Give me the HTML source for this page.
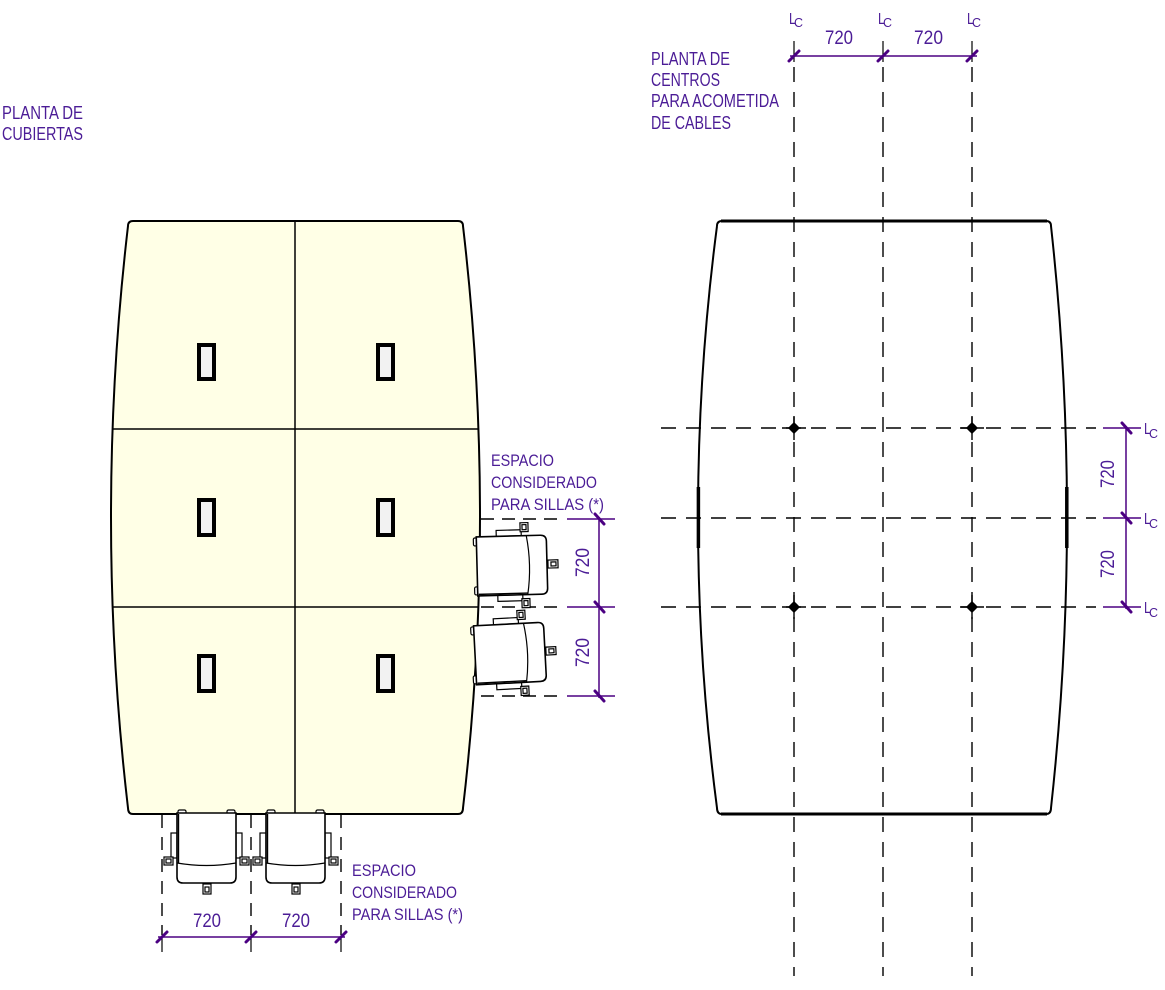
<!DOCTYPE html>
<html><head><meta charset="utf-8"><style>
html,body{margin:0;padding:0;background:#fff;}
svg{display:block;}
text{font-family:"Liberation Sans",sans-serif;fill:#4b1c96;}
</style></head><body>
<svg width="1165" height="990" viewBox="0 0 1165 990" xmlns="http://www.w3.org/2000/svg">
<defs>
<g id="chair" fill="#fff" stroke="#000" stroke-width="1.2">
 <rect x="1" y="-3" width="8" height="5" rx="1.5"/>
 <rect x="50" y="-3" width="8" height="5" rx="1.5"/>
 <rect x="-6" y="20" width="6" height="25"/>
 <rect x="59" y="20" width="6" height="25"/>
 <rect x="-13" y="44" width="9" height="8"/><rect x="-11" y="46" width="5" height="4"/>
 <rect x="63" y="44" width="9" height="8"/><rect x="65" y="46" width="5" height="4"/>
 <path d="M0,0 L59,0 L59,64 Q59,70 53,70 L6,70 Q0,70 0,64 Z" stroke-width="1.6"/>
 <line x1="1.5" y1="1" x2="1.5" y2="50" stroke-width="1.4"/>
 <path d="M0,50 Q29.5,55 59,50" fill="none"/>
 <rect x="26" y="71" width="8" height="10"/><rect x="28" y="74" width="4" height="5"/>
</g>
</defs>

<!-- Titles -->
<text x="2" y="119" font-size="18" textLength="81" lengthAdjust="spacingAndGlyphs">PLANTA DE</text>
<text x="2" y="140" font-size="18" textLength="81" lengthAdjust="spacingAndGlyphs">CUBIERTAS</text>

<text x="651" y="65" font-size="18" textLength="79" lengthAdjust="spacingAndGlyphs">PLANTA DE</text>
<text x="651" y="86" font-size="18" textLength="69" lengthAdjust="spacingAndGlyphs">CENTROS</text>
<text x="651" y="107" font-size="18" textLength="128" lengthAdjust="spacingAndGlyphs">PARA ACOMETIDA</text>
<text x="651" y="129" font-size="18" textLength="80" lengthAdjust="spacingAndGlyphs">DE CABLES</text>

<!-- LEFT TABLE -->
<path d="M133,221 L458,221 Q463,221 463,226 Q497,517 463,808 Q463,814 458,814 L133,814 Q128,814 128,808 Q94,517 128,226 Q128,221 133,221 Z" fill="#ffffe6" stroke="#000" stroke-width="2"/>
<line x1="295" y1="221" x2="295" y2="814" stroke="#000" stroke-width="1.5"/>
<line x1="112" y1="429" x2="479" y2="429" stroke="#000" stroke-width="1.5"/>
<line x1="112" y1="607" x2="479" y2="607" stroke="#000" stroke-width="1.5"/>
<g fill="#f2f2f2" stroke="#000" stroke-width="4">
 <rect x="199" y="345" width="15" height="34"/>
 <rect x="378" y="345" width="15" height="34"/>
 <rect x="199" y="500" width="15" height="35"/>
 <rect x="378" y="500" width="15" height="35"/>
 <rect x="199" y="656" width="15" height="35"/>
 <rect x="378" y="656" width="15" height="35"/>
</g>

<!-- right chairs dashed lines -->
<g stroke="#000" stroke-width="1.4" stroke-dasharray="13 8">
 <line x1="481" y1="519" x2="563" y2="519"/>
 <line x1="481" y1="607" x2="563" y2="607"/>
 <line x1="481" y1="696" x2="563" y2="696"/>
</g>
<use href="#chair" transform="translate(477,595) rotate(-90) rotate(-1.5,30,35)"/>
<use href="#chair" transform="translate(475,683) rotate(-90) rotate(-3,30,35)"/>

<!-- bottom chairs -->
<g stroke="#000" stroke-width="1.4" stroke-dasharray="13 9">
 <line x1="162" y1="815" x2="162" y2="935"/>
 <line x1="251" y1="815" x2="251" y2="935"/>
 <line x1="341" y1="815" x2="341" y2="935"/>
</g>
<use href="#chair" transform="translate(177,813)"/>
<use href="#chair" transform="translate(266,813)"/>

<!-- dims left diagram -->
<g stroke="#4b0082" stroke-width="1.5">
 <line x1="158" y1="937" x2="345" y2="937"/>
 <line x1="567" y1="519" x2="615" y2="519"/>
 <line x1="567" y1="607" x2="615" y2="607"/>
 <line x1="567" y1="696" x2="615" y2="696"/>
 <line x1="599" y1="517" x2="599" y2="698"/>
</g>
<g stroke="#000" stroke-width="1.2">
 <line x1="162" y1="937" x2="162" y2="952"/>
 <line x1="251" y1="937" x2="251" y2="952"/>
 <line x1="341" y1="937" x2="341" y2="952"/>
</g>
<g stroke="#4b0082" stroke-width="3" stroke-linecap="round">
 <line x1="157" y1="942" x2="167" y2="932"/>
 <line x1="246" y1="942" x2="256" y2="932"/>
 <line x1="336" y1="942" x2="346" y2="932"/>
 <line x1="595" y1="514" x2="604" y2="524"/>
 <line x1="595" y1="602" x2="604" y2="612"/>
 <line x1="595" y1="691" x2="604" y2="701"/>
</g>
<text x="193" y="927" font-size="19" textLength="28" lengthAdjust="spacingAndGlyphs">720</text>
<text x="282" y="927" font-size="19" textLength="28" lengthAdjust="spacingAndGlyphs">720</text>
<text transform="translate(589,577) rotate(-90)" font-size="19" textLength="29" lengthAdjust="spacingAndGlyphs">720</text>
<text transform="translate(589,667) rotate(-90)" font-size="19" textLength="29" lengthAdjust="spacingAndGlyphs">720</text>

<text x="491" y="466" font-size="17" textLength="63" lengthAdjust="spacingAndGlyphs">ESPACIO</text>
<text x="491" y="488" font-size="17" textLength="106" lengthAdjust="spacingAndGlyphs">CONSIDERADO</text>
<text x="491" y="510" font-size="17" textLength="113" lengthAdjust="spacingAndGlyphs">PARA SILLAS (*)</text>

<text x="352" y="876" font-size="17" textLength="64" lengthAdjust="spacingAndGlyphs">ESPACIO</text>
<text x="352" y="898" font-size="17" textLength="105" lengthAdjust="spacingAndGlyphs">CONSIDERADO</text>
<text x="352" y="920" font-size="17" textLength="111" lengthAdjust="spacingAndGlyphs">PARA SILLAS (*)</text>

<!-- RIGHT TABLE -->
<path d="M717,226 Q717,221 722,221" fill="none" stroke="#000" stroke-width="2"/>
<path d="M1046,221 Q1051,221 1051,226 Q1083,517 1051,808 Q1051,814 1046,814" fill="none" stroke="#000" stroke-width="2"/>
<path d="M722,814 Q717,814 717,808 Q679,517 717,226" fill="none" stroke="#000" stroke-width="2"/>
<line x1="721" y1="221" x2="1047" y2="221" stroke="#000" stroke-width="3"/>
<line x1="721" y1="814" x2="1047" y2="814" stroke="#000" stroke-width="3"/>
<line x1="698.4" y1="487" x2="698.4" y2="548" stroke="#000" stroke-width="3.5"/>
<line x1="1066.8" y1="487" x2="1066.8" y2="548" stroke="#000" stroke-width="3.5"/>

<g stroke="#000" stroke-width="1.4" stroke-dasharray="15 10">
 <line x1="794" y1="67" x2="794" y2="976"/>
 <line x1="883" y1="67" x2="883" y2="976"/>
 <line x1="972" y1="67" x2="972" y2="976"/>
 <line x1="661" y1="428" x2="1096" y2="428"/>
 <line x1="661" y1="518" x2="1096" y2="518"/>
 <line x1="661" y1="607" x2="1096" y2="607"/>
</g>
<g stroke="#000" stroke-width="1.4">
 <line x1="782" y1="428" x2="806" y2="428"/><line x1="794" y1="416" x2="794" y2="440"/>
 <line x1="960" y1="428" x2="984" y2="428"/><line x1="972" y1="416" x2="972" y2="440"/>
 <line x1="782" y1="607" x2="806" y2="607"/><line x1="794" y1="595" x2="794" y2="619"/>
 <line x1="960" y1="607" x2="984" y2="607"/><line x1="972" y1="595" x2="972" y2="619"/>
</g>
<g fill="#000">
 <polygon points="794,422 800,428 794,434 788,428"/><circle cx="794" cy="428" r="4.2"/>
 <polygon points="972,422 978,428 972,434 966,428"/><circle cx="972" cy="428" r="4.2"/>
 <polygon points="794,601 800,607 794,613 788,607"/><circle cx="794" cy="607" r="4.2"/>
 <polygon points="972,601 978,607 972,613 966,607"/><circle cx="972" cy="607" r="4.2"/>
</g>

<!-- top dims -->
<g stroke="#000" stroke-width="1.2">
 <line x1="794" y1="41" x2="794" y2="62"/>
 <line x1="883" y1="41" x2="883" y2="62"/>
 <line x1="972" y1="41" x2="972" y2="62"/>
</g>
<line x1="790" y1="56" x2="977" y2="56" stroke="#4b0082" stroke-width="1.5"/>
<g stroke="#4b0082" stroke-width="3" stroke-linecap="round">
 <line x1="789" y1="61" x2="799" y2="51"/>
 <line x1="878" y1="61" x2="888" y2="51"/>
 <line x1="967" y1="61" x2="977" y2="51"/>
</g>
<text x="825" y="44" font-size="19" textLength="28" lengthAdjust="spacingAndGlyphs">720</text>
<text x="914" y="44" font-size="19" textLength="29" lengthAdjust="spacingAndGlyphs">720</text>
<g font-size="16">
 <text x="789" y="24" textLength="7" lengthAdjust="spacingAndGlyphs">L</text>
 <text x="794" y="27" font-size="13" textLength="9" lengthAdjust="spacingAndGlyphs">C</text>
 <text x="878" y="24" textLength="7" lengthAdjust="spacingAndGlyphs">L</text>
 <text x="883" y="27" font-size="13" textLength="9" lengthAdjust="spacingAndGlyphs">C</text>
 <text x="967" y="24" textLength="7" lengthAdjust="spacingAndGlyphs">L</text>
 <text x="972" y="27" font-size="13" textLength="9" lengthAdjust="spacingAndGlyphs">C</text>
</g>

<!-- right dims -->
<g stroke="#4b0082" stroke-width="1.5">
 <line x1="1103" y1="428" x2="1141" y2="428"/>
 <line x1="1103" y1="518" x2="1141" y2="518"/>
 <line x1="1103" y1="607" x2="1141" y2="607"/>
 <line x1="1126" y1="426" x2="1126" y2="609"/>
</g>
<g stroke="#4b0082" stroke-width="3" stroke-linecap="round">
 <line x1="1122" y1="423" x2="1131" y2="433"/>
 <line x1="1122" y1="513" x2="1131" y2="523"/>
 <line x1="1122" y1="602" x2="1131" y2="612"/>
</g>
<text transform="translate(1114,488) rotate(-90)" font-size="19" textLength="28" lengthAdjust="spacingAndGlyphs">720</text>
<text transform="translate(1114,578) rotate(-90)" font-size="19" textLength="28" lengthAdjust="spacingAndGlyphs">720</text>
<g font-size="16">
 <text x="1144" y="434" textLength="7" lengthAdjust="spacingAndGlyphs">L</text>
 <text x="1149" y="438" font-size="13" textLength="9" lengthAdjust="spacingAndGlyphs">C</text>
 <text x="1144" y="524" textLength="7" lengthAdjust="spacingAndGlyphs">L</text>
 <text x="1149" y="528" font-size="13" textLength="9" lengthAdjust="spacingAndGlyphs">C</text>
 <text x="1144" y="613" textLength="7" lengthAdjust="spacingAndGlyphs">L</text>
 <text x="1149" y="617" font-size="13" textLength="9" lengthAdjust="spacingAndGlyphs">C</text>
</g>
</svg>
</body></html>
